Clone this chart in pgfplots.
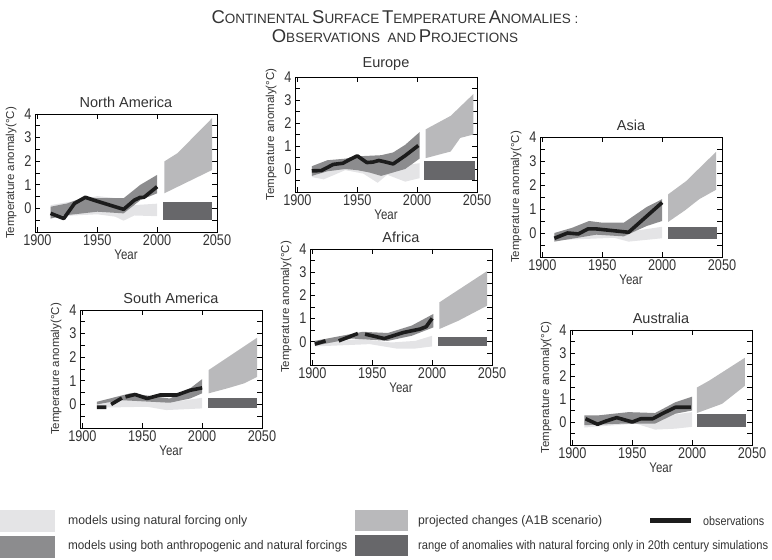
\documentclass[border=0pt]{standalone}
\usepackage{fontspec}
\setmainfont{Liberation Sans}
\newfontfamily\narrowfont{Liberation Sans}[FakeStretch=0.82]
\usepackage{graphicx}
\usepackage{pgfplots}
\pgfplotsset{compat=1.18}

\definecolor{natonly}{HTML}{E4E4E6}
\definecolor{bothf}{HTML}{8C8C8E}
\definecolor{proj}{HTML}{B9B9BB}
\definecolor{natrange}{HTML}{67676A}
\definecolor{obs}{HTML}{1C1C1C}
\definecolor{txt}{HTML}{333333}

\pgfplotsset{
  panel/.style={
    anchor=south west, scale only axis, width=182pt, height=117pt,
    xmin=1898, xmax=2050, ymin=-1, ymax=4,
    xtick={1900,1950,2000,2050}, ytick={0,1,2,3,4},
    minor ytick={-0.5,0.5,1.5,2.5,3.5},
    tick align=inside, major tick length=5pt, minor tick length=5pt,
    tick style={black, line width=0.9pt},
    axis line style={line width=0.9pt},
    /pgf/number format/1000 sep={},
    /pgf/number format/assume math mode=true,
    tick label style={font=\narrowfont\fontsize{15.5}{15.5}\selectfont, text=txt},
    xticklabel style={yshift=1pt},
    xlabel={Year}, ylabel={Temperature anomaly(°C)},
    xlabel style={font=\narrowfont\fontsize{14}{14}\selectfont, text=txt, yshift=3pt},
    ylabel style={font=\fontsize{11.5}{11.5}\selectfont, text=txt, yshift=1pt},
    title style={font=\fontsize{14.5}{14.5}\selectfont, text=txt, yshift=-3pt},
    unbounded coords=jump,
  },
  nat/.style={fill=natonly, draw=none},
  both/.style={fill=bothf, draw=none},
  prj/.style={fill=proj, draw=none},
  rng/.style={fill=natrange, draw=none},
  ob/.style={obs, line width=3.6pt, line join=round},
}
\newcommand{\legtext}[2]{\resizebox{#1pt}{\height}{#2}}

\begin{document}
\begin{tikzpicture}[x=1pt,y=1pt]
\path[use as bounding box] (0,0) rectangle (772,560);

% title
\node[text=txt, align=center] at (395,543) {{\fontsize{18.5}{18.5}\selectfont C}{\fontsize{13.5}{13.5}\selectfont ONTINENTAL} {\fontsize{18.5}{18.5}\selectfont S}{\fontsize{13.5}{13.5}\selectfont URFACE} {\fontsize{18.5}{18.5}\selectfont T}{\fontsize{13.5}{13.5}\selectfont EMPERATURE} {\fontsize{18.5}{18.5}\selectfont A}{\fontsize{13.5}{13.5}\selectfont NOMALIES :}};
\node[text=txt] at (395,524) {{\fontsize{18.5}{18.5}\selectfont O}{\fontsize{13.5}{13.5}\selectfont BSERVATIONS\ \ AND} {\fontsize{18.5}{18.5}\selectfont P}{\fontsize{13.5}{13.5}\selectfont ROJECTIONS}};

% North America
\begin{axis}[panel, at={(35pt,328pt)}, height=118pt, title={North America}]
\addplot[nat] coordinates {(1911,0.14)(1930,0.3)(1950,0.52)(1972,0.4)(1981,0.14)(2000,0.2)
  (2000,-0.33)(1981,-0.3)(1972,-0.52)(1965,-0.35)(1950,-0.25)(1930,-0.3)(1911,-0.42)} -- cycle;
\addplot[both] coordinates {(1911,0.07)(1925,0.21)(1940,0.5)(1950,0.43)(1972,0.43)(1986,1.0)(2000,1.42)
  (2000,0.64)(1986,0.35)(1972,-0.21)(1950,-0.14)(1922,-0.3)(1911,-0.43)} -- cycle;
\addplot[ob] coordinates {(1911,-0.21)(1922,-0.43)(1931,0.21)(1940,0.47)(1947,0.35)(1972,-0.04)(1981,0.35)(1986,0.47)(1989,0.47)(2000,0.92)};
\addplot[prj] coordinates {(2006,1.99)(2017,2.34)(2046,3.83)(2046,1.63)(2006,0.64)} -- cycle;
\addplot[rng] coordinates {(2005,-0.5)(2046,-0.5)(2046,0.28)(2005,0.28)} -- cycle;
\end{axis}

% Europe
\begin{axis}[panel, at={(295pt,368pt)}, height=115pt, title={Europe}]
\addplot[nat] coordinates {(1912,0.1)(1930,0.2)(1950,0.25)(1970,0.1)(1985,0.15)(2002,0.25)
  (2002,-0.4)(1990,-0.55)(1975,-0.25)(1967,-0.6)(1955,-0.2)(1940,-0.05)(1922,-0.45)(1912,-0.35)} -- cycle;
\addplot[both] coordinates {(1912,0.12)(1925,0.38)(1940,0.45)(1950,0.55)(1970,0.6)(1980,0.72)(1990,1.05)(2002,1.6)
  (2002,0.45)(1990,0.0)(1980,-0.15)(1970,-0.3)(1960,-0.15)(1950,-0.05)(1940,0.0)(1925,-0.1)(1912,-0.3)} -- cycle;
\addplot[ob] coordinates {(1912,-0.08)(1920,-0.07)(1930,0.2)(1938,0.25)(1944,0.42)(1950,0.57)(1958,0.28)(1963,0.3)(1968,0.37)(1974,0.3)(1980,0.22)(1990,0.58)(2001,1.02)};
\addplot[prj] coordinates {(2007,1.72)(2028,2.31)(2047,3.26)(2047,1.5)(2036,1.35)(2028,0.76)(2007,0.47)} -- cycle;
\addplot[rng] coordinates {(2006,-0.46)(2048,-0.46)(2048,0.35)(2006,0.35)} -- cycle;
\end{axis}

% Asia
\begin{axis}[panel, at={(540pt,303pt)}, height=120pt, title={Asia}]
\addplot[nat] coordinates {(1910,-0.07)(1939,0.07)(1972,0.05)(2000,0.26)
  (2000,-0.22)(1972,-0.36)(1960,-0.2)(1910,-0.3)} -- cycle;
\addplot[both] coordinates {(1910,0.0)(1925,0.22)(1939,0.5)(1950,0.43)(1968,0.43)(1987,1.08)(2000,1.41)
  (2000,0.5)(1987,0.29)(1968,-0.14)(1945,-0.07)(1910,-0.36)} -- cycle;
\addplot[ob] coordinates {(1910,-0.22)(1921,0.0)(1930,-0.04)(1938,0.17)(1945,0.17)(1972,0.03)(2000,1.27)};
\addplot[prj] coordinates {(2005,1.61)(2020,2.16)(2045,3.38)(2045,1.8)(2031,1.41)(2019,0.94)(2005,0.46)} -- cycle;
\addplot[rng] coordinates {(2005,-0.26)(2046,-0.26)(2046,0.24)(2005,0.24)} -- cycle;
\end{axis}

% South America
\begin{axis}[panel, at={(80pt,132pt)}, height=118pt, title={South America}]
\addplot[nat] coordinates {(1912,0.08)(1940,0.25)(1960,0.18)(1976,0.11)(2000,0.28)
  (2000,-0.17)(1970,-0.24)(1954,-0.1)(1912,-0.14)} -- cycle;
\addplot[both] coordinates {(1912,0.11)(1940,0.47)(1973,0.25)(1990,0.68)(2000,1.07)
  (2000,0.47)(1990,0.25)(1973,0.07)(1932,0.18)(1912,0.0)} -- cycle;
\addplot[ob] coordinates {(1912,-0.12)(1920,-0.12)(1922,nan)(1924,0.0)(1933,0.27)(1934.5,nan)(1936,0.32)(1944,0.42)(1954,0.25)(1965,0.4)(1979,0.4)(1990,0.6)(2000,0.7)};
\addplot[prj] coordinates {(2005.5,1.46)(2046,2.83)(2046,1.17)(2035,0.89)(2021,0.68)(2005.5,0.47)} -- cycle;
\addplot[rng] coordinates {(2005,-0.17)(2046,-0.17)(2046,0.25)(2005,0.25)} -- cycle;
\end{axis}

% Africa
\begin{axis}[panel, at={(310pt,195pt)}, height=116pt, title={Africa}]
\addplot[nat] coordinates {(1902,-0.06)(1940,0.12)(1966,-0.03)(1986,0.04)(2000,0.26)
  (2000,-0.2)(1986,-0.29)(1970,-0.29)(1948,-0.1)(1902,-0.2)} -- cycle;
\addplot[both] coordinates {(1902,0.04)(1942,0.43)(1963,0.38)(1983,0.7)(2001,1.2)
  (2001,0.62)(1983,0.26)(1963,0.04)(1933,0.14)(1902,-0.17)} -- cycle;
\addplot[ob] coordinates {(1902,-0.1)(1911,0.04)(1916,nan)(1922,0.04)(1938,0.36)(1941,nan)(1944,0.33)(1960,0.14)(1976,0.4)(1990,0.55)(1995,0.65)(2000,1.01)};
\addplot[prj] coordinates {(2006,1.7)(2046,3.05)(2046,1.56)(2022,0.91)(2006,0.55)} -- cycle;
\addplot[rng] coordinates {(2005,-0.17)(2046,-0.17)(2046,0.22)(2005,0.22)} -- cycle;
\end{axis}

% Australia
\begin{axis}[panel, at={(570pt,115pt)}, height=115pt, title={Australia}]
\addplot[nat] coordinates {(1910,0.04)(1950,0.14)(1969,0.21)(2000,0.43)
  (2000,-0.21)(1986,-0.29)(1969,-0.33)(1953,-0.07)(1910,-0.24)} -- cycle;
\addplot[both] coordinates {(1910,0.29)(1922,0.29)(1947,0.43)(1969,0.39)(1986,0.86)(2000,1.1)
  (2000,0.5)(1986,0.36)(1969,-0.07)(1942,-0.07)(1910,-0.14)} -- cycle;
\addplot[ob] coordinates {(1911,0.14)(1921,-0.1)(1928,0.04)(1937,0.19)(1950,0.0)(1957,0.14)(1967,0.14)(1975,0.36)(1986,0.64)(1999,0.64)};
\addplot[prj] coordinates {(2004,1.5)(2014,1.79)(2044,2.79)(2044,1.57)(2025,0.79)(2004,0.39)} -- cycle;
\addplot[rng] coordinates {(2004,-0.21)(2045,-0.21)(2045,0.36)(2004,0.36)} -- cycle;
\end{axis}

% legend
\fill[natonly] (0,28) rectangle (55,50);
\fill[bothf] (0,2) rectangle (55,24);
\fill[proj] (355,29) rectangle (408,50);
\fill[natrange] (355,4) rectangle (408,25);
\fill[obs] (650,37) rectangle (691,42);
\begin{scope}[every node/.style={anchor=west, text=txt, font=\fontsize{12.5}{12.5}\selectfont, inner sep=0pt}]
\node at (68,39) {\legtext{179}{models using natural forcing only}};
\node at (68,14) {\legtext{279}{models using both anthropogenic and natural forcings}};
\node at (418,39) {\legtext{184}{projected changes (A1B scenario)}};
\node at (418,14) {\legtext{350}{range of anomalies with natural forcing only in 20th century simulations}};
\node at (703,39) {\legtext{61}{observations}};
\end{scope}
\end{tikzpicture}
\end{document}
